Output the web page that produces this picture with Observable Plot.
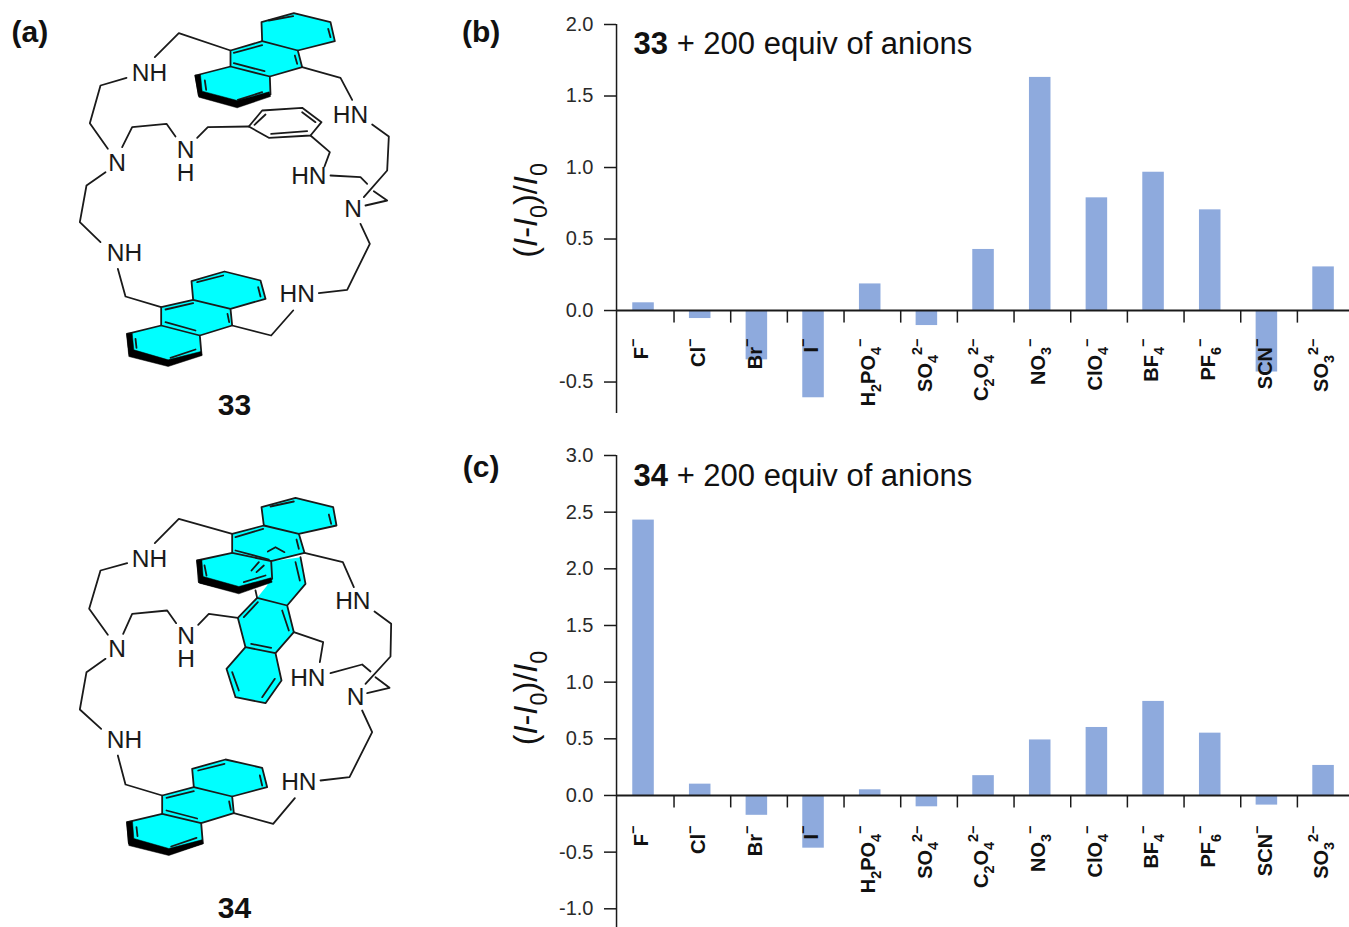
<!DOCTYPE html>
<html>
<head>
<meta charset="utf-8">
<script src="https://cdn.jsdelivr.net/npm/d3@7"></script>
<script src="https://cdn.jsdelivr.net/npm/@observablehq/plot@0.6"></script>
<style>
html,body{margin:0;padding:0;background:#fff;}
#page{position:relative;width:1349px;height:927px;overflow:hidden;font-family:"Liberation Sans",Arial,sans-serif;}
#page svg{position:absolute;max-width:none;}
</style>
</head>
<body>
<div id="page"></div>
<script>
// ---------- chart data ----------
const anions = ["F","Cl","Br","I","H2PO4","SO4","C2O4","NO3","ClO4","BF4","PF6","SCN","SO3"];
const anionLabels = ["F^−^","Cl^−^","Br^−^","I^−^","H_2_PO_4_^−^","SO_4_^2−^","C_2_O_4_^2−^","NO_3_^−^","ClO_4_^−^","BF_4_^−^","PF_6_^−^","SCN^−^","SO_3_^2−^"];
const values33 = [0.054,-0.056,-0.345,-0.61,0.186,-0.105,0.427,1.63,0.788,0.967,0.704,-0.43,0.305];
const values34 = [2.43,0.10,-0.175,-0.465,0.05,-0.10,0.175,0.49,0.60,0.83,0.55,-0.085,0.265];
const ticks33 = [-0.5,0,0.5,1,1.5,2];
const ticks34 = [-1,-0.5,0,0.5,1,1.5,2,2.5,3];
const barColor = "#8eaadd";
const ink = "#1a1a1a";

// ---------- molecule drawing data (sketch units: 3 per page pixel) ----------
const offset34 = 1410;
const rings33 = [
  [[690,150],[785,122],[783,65],[880,38],[990,65],[1003,122],[892,150],[905,200],[808,228],[810,282],[710,318],[595,285],[585,225],[690,198]],
  [[482,920],[578,898],[573,842],[672,813],[780,840],[795,895],[690,925],[695,975],[598,1005],[603,1062],[503,1092],[387,1060],[380,1000],[482,975]]
];
const openRings33 = [
  [[745,378],[785,330],[905,322],[963,365],[930,405],[805,412],[745,378]]
];
const bonds33 = [
  [[785,122],[892,150]],[[690,198],[808,228]],[[700,157],[785,134]],[[700,188],[792,212]],[[883,165],[890,190]],[[805,60],[878,47]],[[983,85],[990,110]],[[712,298],[785,275]],[[613,240],[617,268]],
  [[578,898],[690,925]],[[482,975],[598,1005]],[[495,927],[578,908]],[[495,965],[585,990]],[[681,940],[686,965]],[[590,845],[668,825]],[[773,860],[780,888]],[[510,1072],[585,1047]],[[405,1015],[408,1042]],
  [[690,150],[535,98],[463,170]],[[378,232],[300,255],[268,368],[322,445]],[[365,440],[395,380],[498,370],[525,408]],[[590,412],[622,380],[745,378]],
  [[762,373],[795,342]],[[905,335],[945,365]],[[812,400],[920,392]],
  [[930,405],[988,455],[972,498]],[[990,525],[1080,530],[1100,550]],[[1120,572],[1160,600],[1095,615]],[[1090,590],[1160,510],[1165,408],[1115,372]],
  [[1055,298],[1020,232],[905,200]],[[1080,670],[1108,730],[1040,868],[955,878]],[[878,930],[812,1005],[695,975]],
  [[315,515],[258,555],[238,665],[300,725]],[[352,805],[375,888],[482,920]]
];
const wedges33 = [
  [[583,225],[595,290],[710,322],[810,288],[806,274],[710,300],[605,272],[600,223]],
  [[378,1000],[385,1068],[503,1098],[605,1065],[601,1053],[503,1078],[400,1048],[395,998]]
];
const atoms33 = [
  ["NH",447,220],["N",350,488],["N\nH",555,485],["HN",925,528],["N",1058,628],["HN",1050,345],["HN",890,882],["NH",372,758]
];
const middleFill34 = [[770,382],[800,345],[815,272],[900,260],[915,340],[860,405],[880,485],[825,548],[843,630],[795,698],[705,680],[678,595],[735,530],[712,442]];
const middleEdges34 = [
  [[900,260],[915,340],[860,405],[880,485],[825,548],[843,630],[795,698],[705,680],[678,595],[735,530],[712,442],[770,382],[860,405]],
  [[735,530],[825,548]],[[770,382],[765,360]],
  [[730,440],[772,395]],[[845,420],[865,480]],[[752,520],[812,532]],[[823,625],[785,680]],[[715,660],[695,605]],[[885,275],[898,330]]
];
const rings34 = [
  [[695,190],[790,165],[783,110],[885,82],[998,110],[1008,165],[895,190],[912,247],[812,272],[815,325],[715,365],[595,335],[590,270],[695,247]],
  [[485,975],[580,950],[575,895],[675,867],[785,892],[800,950],[695,978],[700,1028],[602,1058],[607,1118],[505,1150],[385,1118],[380,1055],[485,1030]]
];
const bonds34 = [
  [[790,165],[895,190]],[[695,247],[812,272]],[[705,200],[788,175]],[[705,240],[805,267]],[[985,132],[992,160]],[[810,108],[880,93]],[[888,207],[895,235]],[[730,335],[795,315]],[[612,285],[618,315]],
  [[802,243],[825,230],[852,245]],[[753,300],[775,275]],[[768,305],[790,285]],
  [[580,950],[695,978]],[[485,1030],[602,1058]],[[498,982],[580,962]],[[498,1020],[590,1044]],[[686,993],[691,1018]],[[593,900],[672,880]],[[778,915],[785,945]],[[512,1128],[588,1102]],[[408,1070],[411,1097]],
  [[695,190],[535,145],[463,218]],[[380,278],[300,300],[266,415],[322,493]],[[368,490],[395,430],[500,420],[527,458]],[[593,463],[625,430],[712,442]],
  [[880,485],[968,515],[958,575]],[[990,608],[1085,582],[1110,603]],[[1125,620],[1167,652],[1100,668]],[[1095,640],[1170,558],[1172,460],[1122,423]],
  [[1060,350],[1027,275],[912,247]],[[1085,720],[1115,785],[1047,920],[960,930]],[[883,983],[818,1060],[700,1028]],
  [[315,565],[258,605],[238,717],[302,775]],[[352,855],[375,942],[485,975]]
];
const wedges34 = [
  [[588,270],[597,338],[715,370],[815,335],[811,322],[715,348],[608,318],[604,268]],
  [[378,1055],[385,1125],[505,1155],[608,1120],[604,1108],[505,1134],[400,1104],[396,1053]]
];
const atoms34 = [
  ["NH",447,268],["N",350,537],["N\nH",557,533],["HN",922,623],["N",1065,680],["HN",1057,393],["HN",895,937],["NH",372,810]
];
const captions = [["(a)",88,95],["33",702,1215],["34",702,2725],["(b)",1442,95],["(c)",1442,1400]];

// ---------- helpers ----------
function toRows(polys, dy = 0, tag = "p") {
  return polys.flatMap((poly, i) => poly.map(([x, y]) => ({id: tag + i, x, y: y + dy})));
}
function atomRows(list, dy = 0) {
  return list.map(([t, x, y]) => ({t, x, y: y + dy}));
}
// turns _sub_, ^sup^, *bold* and ~italic~ text markup into real tspans
function richText(index, scales, values, dimensions, context, next) {
  const g = next(index, scales, values, dimensions, context);
  d3.select(g).selectAll("text").each(function () {
    const el = d3.select(this);
    const src = el.text();
    const re = /_(.+?)_|\^(.+?)\^|\*(.+?)\*|~(.+?)~|([^_^*~]+)/g;
    el.text(null);
    let m, shift = 0;
    while ((m = re.exec(src))) {
      const ts = el.append("tspan");
      let target = 0;
      if (m[1]) { ts.text(m[1]).attr("font-size", "0.72em"); target = 0.3; }
      else if (m[2]) { ts.text(m[2]).attr("font-size", "0.72em"); target = -0.5; }
      else if (m[3]) { ts.text(m[3]).attr("font-weight", "bold"); }
      else if (m[4]) { ts.text(m[4]).attr("font-style", "italic"); }
      else ts.text(m[5]);
      const size = (m[1] || m[2]) ? 0.72 : 1;
      ts.attr("dy", ((target - shift) / size) + "em");
      shift = target;
    }
  });
  return g;
}

// ---------- molecule layer ----------
const bondStyle = {x: "x", y: "y", z: "id", stroke: ink, strokeWidth: 1.8, strokeLinejoin: "round"};
const ringStyle = {...bondStyle, fill: "#00ffff", curve: "linear-closed"};
const wedgeStyle = {x: "x", y: "y", z: "id", fill: "#000", stroke: "#000", strokeWidth: 0.5, curve: "linear-closed"};
const atomStyle = {x: "x", y: "y", text: "t", fontSize: 24.5, lineHeight: 0.95, fill: ink, lineAnchor: "middle"};

const molecules = Plot.plot({
  width: 1349, height: 927, margin: 0,
  style: {background: "transparent", fontFamily: "'Liberation Sans',Arial,sans-serif"},
  x: {domain: [0, 4047], range: [0, 1349], axis: null},
  y: {domain: [0, 2781], range: [0, 927], axis: null},
  marks: [
    Plot.line(toRows(rings33, 0, "r33"), ringStyle),
    Plot.line(toRows(openRings33, 0, "o33"), bondStyle),
    Plot.line(toRows(bonds33, 0, "b33"), bondStyle),
    Plot.line(toRows(wedges33, 0, "w33"), wedgeStyle),
    Plot.text(atomRows(atoms33), atomStyle),
    Plot.line(toRows([middleFill34], offset34, "m34"), {x: "x", y: "y", z: "id", fill: "#00ffff", stroke: "none", curve: "linear-closed"}),
    Plot.line(toRows(middleEdges34, offset34, "e34"), bondStyle),
    Plot.line(toRows(rings34, offset34, "r34"), ringStyle),
    Plot.line(toRows(bonds34, offset34, "b34"), bondStyle),
    Plot.line(toRows(wedges34, offset34, "w34"), wedgeStyle),
    Plot.text(atomRows(atoms34, offset34), atomStyle),
    Plot.text(atomRows(captions), {x: "x", y: "y", text: "t", fontSize: 30, fontWeight: "bold", fill: "#111", lineAnchor: "middle"})
  ]
});

// ---------- bar panels ----------
function panel({values, yTicks, yDomain, yRange, height, tickLen, labelY, title, titleY, axisLabelY}) {
  const rows = anions.map((a, i) => ({anion: a, value: values[i], label: anionLabels[i]}));
  return Plot.plot({
    width: 889, height,
    marginLeft: 156, marginRight: 0, marginTop: 0, marginBottom: 0,
    style: {background: "transparent", fontFamily: "'Liberation Sans',Arial,sans-serif", color: ink},
    x: {domain: anions, range: [154.7, 891.4], paddingInner: 0.62, paddingOuter: 0.31, round: false, axis: null},
    y: {domain: yDomain, range: yRange, axis: null},
    marks: [
      Plot.barY(rows, {x: "anion", y: "value", fill: barColor}),
      Plot.ruleY([0], {stroke: ink, strokeWidth: 2}),
      Plot.ruleX(["F"], {dx: -27, y1: yDomain[0], y2: yDomain[1], stroke: ink, strokeWidth: 1.5}),
      Plot.ruleX(anions.slice(0, -1), {dx: 30.5, y1: 0, y2: -tickLen, stroke: ink, strokeWidth: 1.5}),
      Plot.axisY({ticks: yTicks, anchor: "left", tickSize: 12, tickPadding: 11,
        tickFormat: d => d3.format(".1f")(d).replace("−", "-"), fontSize: 20, label: null,
        stroke: ink, strokeWidth: 1.5, fill: "#2a2a2a"}),
      Plot.text(rows, {x: "anion", y: () => labelY, dx: -1.5, text: "label", rotate: -90, textAnchor: "end", lineAnchor: "middle",
        fontSize: 20, fontWeight: "bold", fill: "#111", render: richText}),
      Plot.text([title], {x: () => "F", y: () => titleY, dx: -10, textAnchor: "start", lineAnchor: "middle",
        fontSize: 31, fill: "#111", render: richText}),
      Plot.text(["(~I~-~I~_0_)/~I~_0_"], {x: () => "F", y: () => axisLabelY, dx: -116.5, rotate: -90, lineAnchor: "middle",
        fontSize: 32.5, fill: "#111", render: richText})
    ]
  });
}

const panelB = panel({
  values: values33, yTicks: ticks33, yDomain: [-0.72, 2], yRange: [413, 24], height: 420,
  tickLen: 0.088, labelY: -0.196, title: "*33* + 200 equiv of anions", titleY: 1.86, axisLabelY: 0.7
});
const panelC = panel({
  values: values34, yTicks: ticks34, yDomain: [-1.165, 3], yRange: [487, 15], height: 487,
  tickLen: 0.11, labelY: -0.265, title: "*34* + 200 equiv of anions", titleY: 2.82, axisLabelY: 0.86
});

const page = document.getElementById("page");
molecules.style.left = "0"; molecules.style.top = "0";
panelB.style.left = "460px"; panelB.style.top = "0";
panelC.style.left = "460px"; panelC.style.top = "440px";
page.append(molecules, panelB, panelC);
</script>
</body>
</html>
